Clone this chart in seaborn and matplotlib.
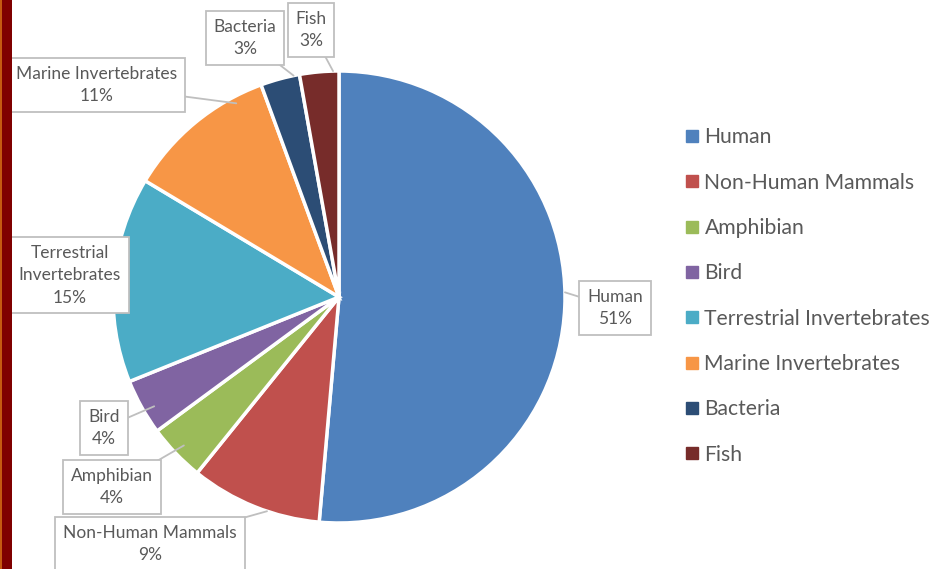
import numpy as np
import matplotlib
matplotlib.use("Agg")
import matplotlib.pyplot as plt
from matplotlib.patches import Rectangle
from matplotlib.lines import Line2D
import seaborn as sns

# ---- data ----
categories = ["Human", "Non-Human Mammals", "Amphibian", "Bird",
              "Terrestrial Invertebrates", "Marine Invertebrates", "Bacteria", "Fish"]
values = [51.4, 9.4, 4.1, 4.0, 14.7, 10.8, 2.8, 2.8]
label_names = ["Human", "Non-Human Mammals", "Amphibian", "Bird",
               "Terrestrial\nInvertebrates", "Marine Invertebrates", "Bacteria", "Fish"]
colors = ["#4F81BD", "#C0504D", "#9BBB59", "#8064A2",
          "#4BACC6", "#F79646", "#2C4D75", "#772C2A"]

# ---- style ----
sns.set_theme(style="white")
plt.rcParams["font.family"] = ["Lato", "DejaVu Sans"]
W, H = 941, 569
fig = plt.figure(figsize=(W / 100, H / 100), dpi=100)
ax = fig.add_axes([0, 0, 1, 1])

def py(y):
    return H - y

cx, cy, R = 339, py(297), 226
wedges, _ = ax.pie(values, colors=colors, startangle=90, counterclock=False,
                   center=(cx, cy), radius=R, frame=True,
                   wedgeprops=dict(edgecolor="white", linewidth=2.5))
ax.set_xlim(0, W)
ax.set_ylim(0, H)
ax.set_aspect("equal")
ax.axis("off")

# label box centers (pixel coords) and leader tip placement
label_pos = [(615, 308), (150, 544), (112, 487), (104, 428),
             (70, 275), (97, 85), (245, 38), (311, 30)]
tip_frac = [1.0, 1.0, 0.95, 0.95, 0.95, 0.97, 1.0, 1.0]
tip_angle_shift = [0.02, 0.1, 0.0, 0.1, 0, -0.3, -0.35, -0.35]

total = sum(values)
for w, name, v, (lx, ly), tf, sh in zip(wedges, label_names, values, label_pos, tip_frac, tip_angle_shift):
    ang = np.deg2rad(w.theta1 + (w.theta2 - w.theta1) * (0.5 + sh))
    tx, ty = cx + R * tf * np.cos(ang), cy + R * tf * np.sin(ang)
    ax.plot([lx, tx], [py(ly), ty], color="#BFBFBF", lw=1.3, zorder=3)
    ax.text(lx, py(ly), f"{name}\n{round(100 * v / total):d}%", ha="center", va="center",
            fontsize=12.5, color="#595959", linespacing=1.5, zorder=4,
            bbox=dict(boxstyle="square,pad=0.45", facecolor="white",
                      edgecolor="#BFBFBF", linewidth=1.3))

# legend
handles = [Line2D([0], [0], marker="s", linestyle="none", markersize=8.5,
                  markerfacecolor=c, markeredgecolor=c) for c in colors]
leg = fig.legend(handles, categories, loc="center left",
                 bbox_to_anchor=(676 / W, 1 - 296 / H), frameon=False,
                 fontsize=15.2, labelcolor="#595959", handlelength=0.55,
                 handletextpad=0.3, labelspacing=1.2, borderpad=0)

# left decorative stripe
fig.patches.append(Rectangle((0, 0), 2 / W, 1, transform=fig.transFigure,
                             facecolor="#C55A11", edgecolor="none"))
fig.patches.append(Rectangle((2 / W, 0), 10 / W, 1, transform=fig.transFigure,
                             facecolor="#7F0000", edgecolor="none"))

fig.savefig("out.png", dpi=100)
